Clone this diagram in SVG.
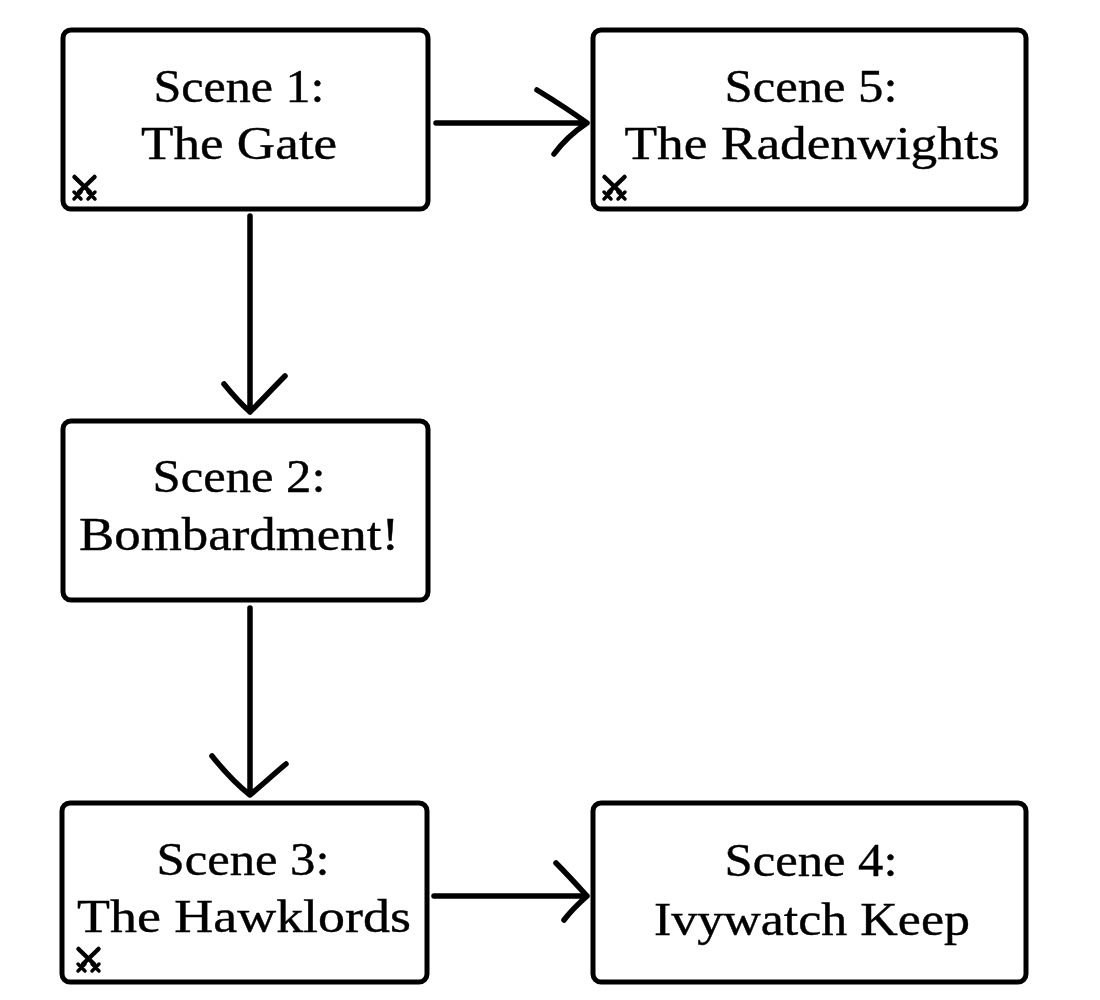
<svg xmlns="http://www.w3.org/2000/svg" width="1100" height="1000" viewBox="0 0 1100 1000">
<defs>
<style>
.box{fill:#fff;stroke:#000;stroke-width:5}
.t{font-family:"Liberation Serif",serif;font-size:47px;fill:#000;stroke:#000;stroke-width:.4;text-anchor:middle}
.c{fill:none;stroke:#000;stroke-width:5.5;stroke-linecap:round;stroke-linejoin:round}
.s{fill:none;stroke:#000;stroke-width:4.5;stroke-linecap:round}
.o{fill:none;stroke:#000;stroke-width:3.5;stroke-linecap:round}
</style>
<g id="swords">
<path class="s" d="M2.500 2L18 17M22.500 2L7 17"/>
<path class="o" d="M2 17L9 24M9 17L2 24M16 17L23 24M23 17L16 24"/>
</g>
</defs>
<rect width="1100" height="1000" fill="#fff"/>
<g id="connectors">
<path class="c" d="M436 123H587M537 90C555 101 572 112 587 123C572 133 562 143 554 154"/>
<path class="c" d="M250 216V412M224 384C233 395 241 404 250 412C262 400 273 388 285 376"/>
<path class="c" d="M250 608V795M212 756C224 771 236 784 250 795C262 785 274 774 286 764"/>
<path class="c" d="M434 896H587M556 863C567 874 577 885 587 896C577 905 570 912 564 920"/>
</g>
<g id="scene1"><rect class="box" x="63" y="30" width="365" height="179" rx="8"/>
<text class="t" x="239" y="102" textLength="171" lengthAdjust="spacingAndGlyphs">Scene 1:</text><text class="t" x="239" y="159" textLength="196" lengthAdjust="spacingAndGlyphs">The Gate</text><use href="#swords" x="72" y="175"/></g>
<g id="scene5"><rect class="box" x="593" y="30" width="433" height="179" rx="8"/>
<text class="t" x="811" y="102" textLength="173" lengthAdjust="spacingAndGlyphs">Scene 5:</text><text class="t" x="812" y="159" textLength="375" lengthAdjust="spacingAndGlyphs">The Radenwights</text><use href="#swords" x="602" y="175"/></g>
<g id="scene2"><rect class="box" x="63" y="421" width="365" height="179" rx="8"/>
<text class="t" x="239" y="492" textLength="173" lengthAdjust="spacingAndGlyphs">Scene 2:</text><text class="t" x="239" y="550" textLength="320" lengthAdjust="spacingAndGlyphs">Bombardment!</text></g>
<g id="scene3"><rect class="box" x="62" y="803" width="365" height="179" rx="8"/>
<text class="t" x="243" y="875" textLength="173" lengthAdjust="spacingAndGlyphs">Scene 3:</text><text class="t" x="244" y="932" textLength="334" lengthAdjust="spacingAndGlyphs">The Hawklords</text><use href="#swords" x="76" y="947"/></g>
<g id="scene4"><rect class="box" x="593" y="803" width="433" height="179" rx="8"/>
<text class="t" x="811" y="876" textLength="173" lengthAdjust="spacingAndGlyphs">Scene 4:</text><text class="t" x="812" y="935" textLength="316" lengthAdjust="spacingAndGlyphs">Ivywatch Keep</text></g>
</svg>
